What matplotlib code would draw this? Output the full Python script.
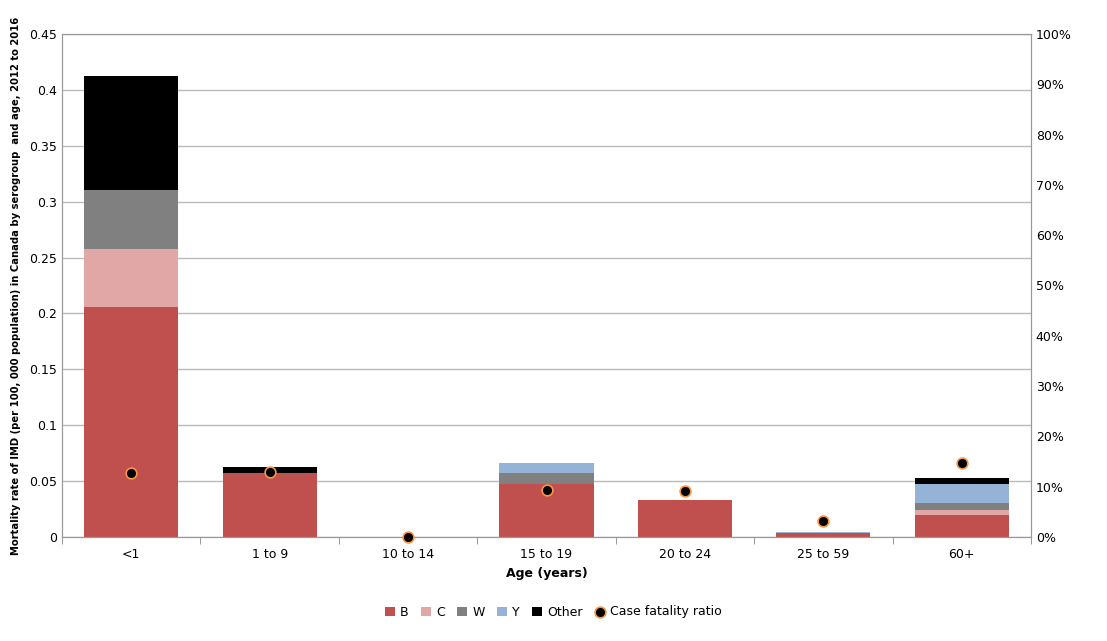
import matplotlib
matplotlib.use("Agg")
import matplotlib.pyplot as plt
from matplotlib.ticker import PercentFormatter
import numpy as np

ages = ["<1", "1 to 9", "10 to 14", "15 to 19", "20 to 24", "25 to 59", "60+"]
B = [0.206, 0.057, 0.0, 0.047, 0.0335, 0.0036, 0.020]
C = [0.052, 0.0, 0.0, 0.0, 0.0, 0.0, 0.0045]
W = [0.052, 0.0, 0.0, 0.010, 0.0, 0.0, 0.0055]
Y = [0.0, 0.0, 0.0, 0.0095, 0.0, 0.0012, 0.017]
Other = [0.1025, 0.006, 0.0, 0.0, 0.0, 0.0, 0.0055]
cfr = [12.7, 13.0, 0.0, 9.4, 9.2, 3.1, 14.8]

series = [("B", B, "#c0504d"), ("C", C, "#e0a7a6"), ("W", W, "#808080"),
          ("Y", Y, "#95b3d7"), ("Other", Other, "#000000")]

fig = plt.figure(figsize=(11.07, 6.41), dpi=100)
ax = fig.add_axes([62/1107, 1-537/641, (1031-62)/1107, (537-34)/641])
x = np.arange(len(ages))
bottom = np.zeros(len(ages))
handles = []
for name, vals, col in series:
    h = ax.bar(x, vals, 0.68, bottom=bottom, color=col, label=name, zorder=2)
    bottom += np.array(vals)
    handles.append(h)
ax.set_ylim(0, 0.45)
ax.set_yticks(np.arange(0, 0.451, 0.05))
ax.set_yticklabels(["0"] + [f"{v:.2f}".rstrip("0") for v in np.arange(0.05, 0.451, 0.05)])
ax.set_xlim(-0.5, len(ages) - 0.5)
ax.set_xticks(x)
ax.set_xticklabels(ages)
ax.set_xticks(np.arange(-0.5, len(ages)), minor=True)
ax.tick_params(axis="x", which="major", length=0, pad=8)
ax.tick_params(axis="x", which="minor", length=5, color="#888888")
ax.tick_params(axis="y", length=0)
ax.grid(axis="y", color="#bbbbbb", linewidth=1, zorder=0)
for s in ax.spines.values():
    s.set_color("#999999")
ax.set_xlabel("Age (years)", fontsize=9, fontweight="bold")
ax.set_ylabel("Mortality rate of IMD (per 100, 000 population) in Canada by serogroup  and age, 2012 to 2016",
              fontsize=7.2, fontweight="bold", labelpad=6)
ax.tick_params(labelsize=9)

ax2 = ax.twinx()
ax2.set_ylim(0, 100)
ax2.set_yticks(np.arange(0, 101, 10))
ax2.yaxis.set_major_formatter(PercentFormatter(decimals=0))
ax2.tick_params(length=0, labelsize=9)
for s in ax2.spines.values():
    s.set_color("#999999")
h = ax2.scatter(x, cfr, s=60, color="black", edgecolors="#f79646", linewidths=1.2, zorder=5, label="Case fatality ratio", clip_on=False)
handles.append(h)

fig.legend(handles=handles, labels=[s[0] for s in series] + ["Case fatality ratio"],
           loc="center", bbox_to_anchor=(0.5, 1-612/641), ncol=6, frameon=False,
           fontsize=9, handlelength=0.8, handletextpad=0.4, columnspacing=1.0)
fig.savefig("out.png", dpi=100)
